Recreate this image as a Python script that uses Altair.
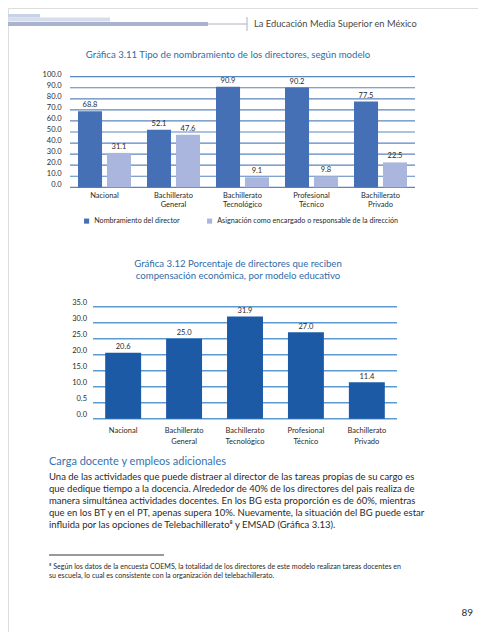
import altair as alt
import pandas as pd

# ---------------- data ----------------
categories = ["Nacional", "Bachillerato General", "Bachillerato Tecnológico",
              "Profesional Técnico", "Bachillerato Privado"]
category_labels = [["Nacional"], ["Bachillerato", "General"], ["Bachillerato", "Tecnológico"],
                   ["Profesional", "Técnico"], ["Bachillerato", "Privado"]]
series = ["Nombramiento del director",
          "Asignación como encargado o responsable de la dirección"]
nombramiento = [68.8, 52.1, 90.9, 90.2, 77.5]
asignacion = [31.1, 47.6, 9.1, 9.8, 22.5]
compensacion = [20.6, 25.0, 31.9, 27.0, 11.4]

y1_ticks = [0, 10, 20, 30, 40, 50, 60, 70, 80, 90, 100]
y1_tick_labels = ["0.0", "10.0", "20.0", "30.0", "40.0", "50.0", "60.0", "70.0", "80.0", "90.0", "100.0"]
y2_ticks = [0, 5, 10, 15, 20, 25, 30, 35]
y2_tick_labels = ["0.0", "0.5", "10.0", "15.0", "20.0", "25.0", "30.0", "35.0"]

header_text = "La Educación Media Superior en México"
title1 = "Gráfica 3.11 Tipo de nombramiento de los directores, según modelo"
title2 = ["Gráfica 3.12 Porcentaje de directores que reciben",
          "compensación económica, por modelo educativo"]
heading = "Carga docente y empleos adicionales"
paragraph = [
    "Una de las actividades que puede distraer al director de las tareas propias de su cargo es",
    "que dedique tiempo a la docencia. Alrededor de 40% de los directores del pais realiza de",
    "manera simultánea actividades docentes. En los BG esta proporción es de 60%, mientras",
    "que en los BT y en el PT, apenas supera 10%. Nuevamente, la situación del BG puede estar",
    "influida por las opciones de Telebachillerato⁸ y EMSAD (Gráfica 3.13).",
]
footnote = [
    "⁸ Según los datos de la encuesta COEMS, la totalidad de los directores de este modelo realizan tareas docentes en",
    "su escuela, lo cual es consistente con la organización del telebachillerato.",
]
page_number = "89"

# ---------------- styles ----------------
FONT = "Lato"
DARK = "#4670b5"
LIGHT = "#aab6de"
GRID1 = "#5a86bf"
BAR2 = "#1c5aa6"
GRID2 = "#5e9ad2"
BLUE_TXT = "#2f6ca8"
TXT = "#2a2a2a"

df1 = pd.DataFrame({
    "cat": categories * 2,
    "series": [series[0]] * 5 + [series[1]] * 5,
    "value": nombramiento + asignacion,
})
df1_lab = pd.DataFrame({"cat": categories, "lab": category_labels})
df1_ticks = pd.DataFrame({"v": y1_ticks, "lab": y1_tick_labels})

df2 = pd.DataFrame({"cat": categories, "value": compensacion})
df2_lab = pd.DataFrame({"cat": categories, "lab": category_labels})
df2_ticks = pd.DataFrame({"v": y2_ticks, "lab": y2_tick_labels})

# ---------------- chart 1 ----------------
x1s = alt.Scale(domain=categories, range=[62, 407], paddingInner=0.232, paddingOuter=0.116)
y1s = alt.Scale(domain=[0, 100], range=[179.3, 68.7], nice=False, zero=True)
X1 = alt.X("cat:N", scale=x1s, axis=None, sort=categories)
Y1 = alt.Y("v:Q", scale=y1s, axis=None)
XOFF = alt.XOffset("series:N", sort=series, scale=alt.Scale(paddingInner=0.17, paddingOuter=0))

grid1 = alt.Chart(df1_ticks).mark_rule(color=GRID1, strokeWidth=1.2).encode(
    y=Y1, x=alt.value(62), x2=alt.value(407))
ylab1 = alt.Chart(df1_ticks).mark_text(
    align="right", baseline="middle", dy=-2, font=FONT, fontSize=7.5, color=TXT
).encode(y=Y1, x=alt.value(53.7), text="lab:N")
bars1 = alt.Chart(df1).mark_bar().encode(
    x=X1,
    xOffset=XOFF,
    y=alt.Y("value:Q", scale=y1s, axis=None),
    color=alt.Color("series:N", sort=series,
                    scale=alt.Scale(domain=series, range=[DARK, LIGHT]),
                    legend=alt.Legend(orient="none", legendX=75, legendY=209.4, direction="horizontal",
                                      title=None, symbolType="square", symbolSize=26,
                                      symbolStrokeWidth=0, labelFont=FONT, labelFontSize=7.2,
                                      labelColor=TXT, labelOffset=4, columnPadding=26,
                                      padding=0, labelLimit=400)),
)
vals1 = alt.Chart(df1).mark_text(
    baseline="middle", dy=-6, font=FONT, fontSize=7.5, color=TXT
).encode(
    x=X1,
    xOffset=XOFF,
    y=alt.Y("value:Q", scale=y1s, axis=None),
    text=alt.Text("value:Q", format=".1f"),
)
xlab1 = alt.Chart(df1_lab).mark_text(
    baseline="top", align="center", font=FONT, fontSize=7.5, lineHeight=9.3, color=TXT
).encode(x=X1, y=alt.value(183.6), text="lab")

chart1 = alt.layer(grid1, bars1, vals1, xlab1, ylab1)

# ---------------- chart 2 ----------------
x2s = alt.Scale(domain=categories, range=[85, 389], paddingInner=0.41, paddingOuter=0.2)
y2s = alt.Scale(domain=[0, 35], range=[410.7, 298.7], nice=False, zero=True)
X2 = alt.X("cat:N", scale=x2s, axis=None, sort=categories)
Y2 = alt.Y("v:Q", scale=y2s, axis=None)

grid2 = alt.Chart(df2_ticks).mark_rule(color=GRID2, strokeWidth=1.5).encode(
    y=Y2, x=alt.value(85), x2=alt.value(389))
ylab2 = alt.Chart(df2_ticks).mark_text(
    align="right", baseline="middle", dy=-3.5, font=FONT, fontSize=7.5, color=TXT
).encode(y=Y2, x=alt.value(79), text="lab:N")
bars2 = alt.Chart(df2).mark_bar(color=BAR2).encode(
    x=X2, y=alt.Y("value:Q", scale=y2s, axis=None))
vals2 = alt.Chart(df2).mark_text(
    baseline="middle", dy=-5.5, font=FONT, fontSize=7.5, color=TXT
).encode(x=X2, y=alt.Y("value:Q", scale=y2s, axis=None), text=alt.Text("value:Q", format=".1f"))
xlab2 = alt.Chart(df2_lab).mark_text(
    baseline="top", align="center", font=FONT, fontSize=7.5, lineHeight=11, color=TXT
).encode(x=X2, y=alt.value(419), text="lab")

chart2 = alt.layer(grid2, bars2, vals2, xlab2, ylab2)

# ---------------- page text & decoration ----------------
one = pd.DataFrame({"k": [0]})


def txt(value, x, y, size, color=TXT, align="left", baseline="middle", lh=None):
    kw = dict(align=align, baseline=baseline, font=FONT, fontSize=size, color=color)
    if lh is not None:
        kw["lineHeight"] = lh
    return alt.Chart(one).mark_text(**kw).encode(
        x=alt.value(x), y=alt.value(y), text=alt.value(value))


def rect(x, x2, y, y2, color):
    return alt.Chart(one).mark_rect(color=color).encode(
        x=alt.value(x), x2=alt.value(x2), y=alt.value(y), y2=alt.value(y2))


deco = [
    rect(0, 32, 6, 9.5, "#c9d3e8"),
    rect(0, 102, 9.5, 13.5, "#d6deee"),
    rect(0, 200, 14, 18, "#a9b3cf"),
    alt.Chart(one).mark_rule(color="#9aa0ad", strokeWidth=0.8).encode(
        x=alt.value(200), x2=alt.value(239), y=alt.value(16)),
    alt.Chart(one).mark_rule(color="#9aa0ad", strokeWidth=0.8).encode(
        x=alt.value(239), y=alt.value(9), y2=alt.value(23)),
    alt.Chart(one).mark_rule(color="#000000", strokeWidth=0.8).encode(
        x=alt.value(41), x2=alt.value(156), y=alt.value(547)),
]

texts = [
    txt(header_text, 246, 16, 9.3, color="#4a4a4a"),
    txt(title1, 220, 47, 9.6, color=BLUE_TXT, align="center"),
    txt(title2, 230, 251, 9.6, color=BLUE_TXT, align="center", baseline="top", lh=11.5),
    txt(heading, 41, 453.5, 11, color="#3572b0"),
    txt(paragraph, 41, 463.5, 9.5, baseline="top", lh=12),
    txt(footnote, 41, 555, 7.1, baseline="top", lh=9),
    txt(page_number, 465, 605, 10, align="right"),
]

chart = alt.layer(chart1, chart2, *deco, *texts).resolve_scale(
    x="independent", y="independent", color="independent", xOffset="independent"
).properties(
    width=470, height=624, autosize=alt.AutoSizeParams(type="none"), padding=0
).configure_view(stroke=None).configure(background="white")

chart.save("out.html", embed_options={"renderer": "svg", "actions": False})
